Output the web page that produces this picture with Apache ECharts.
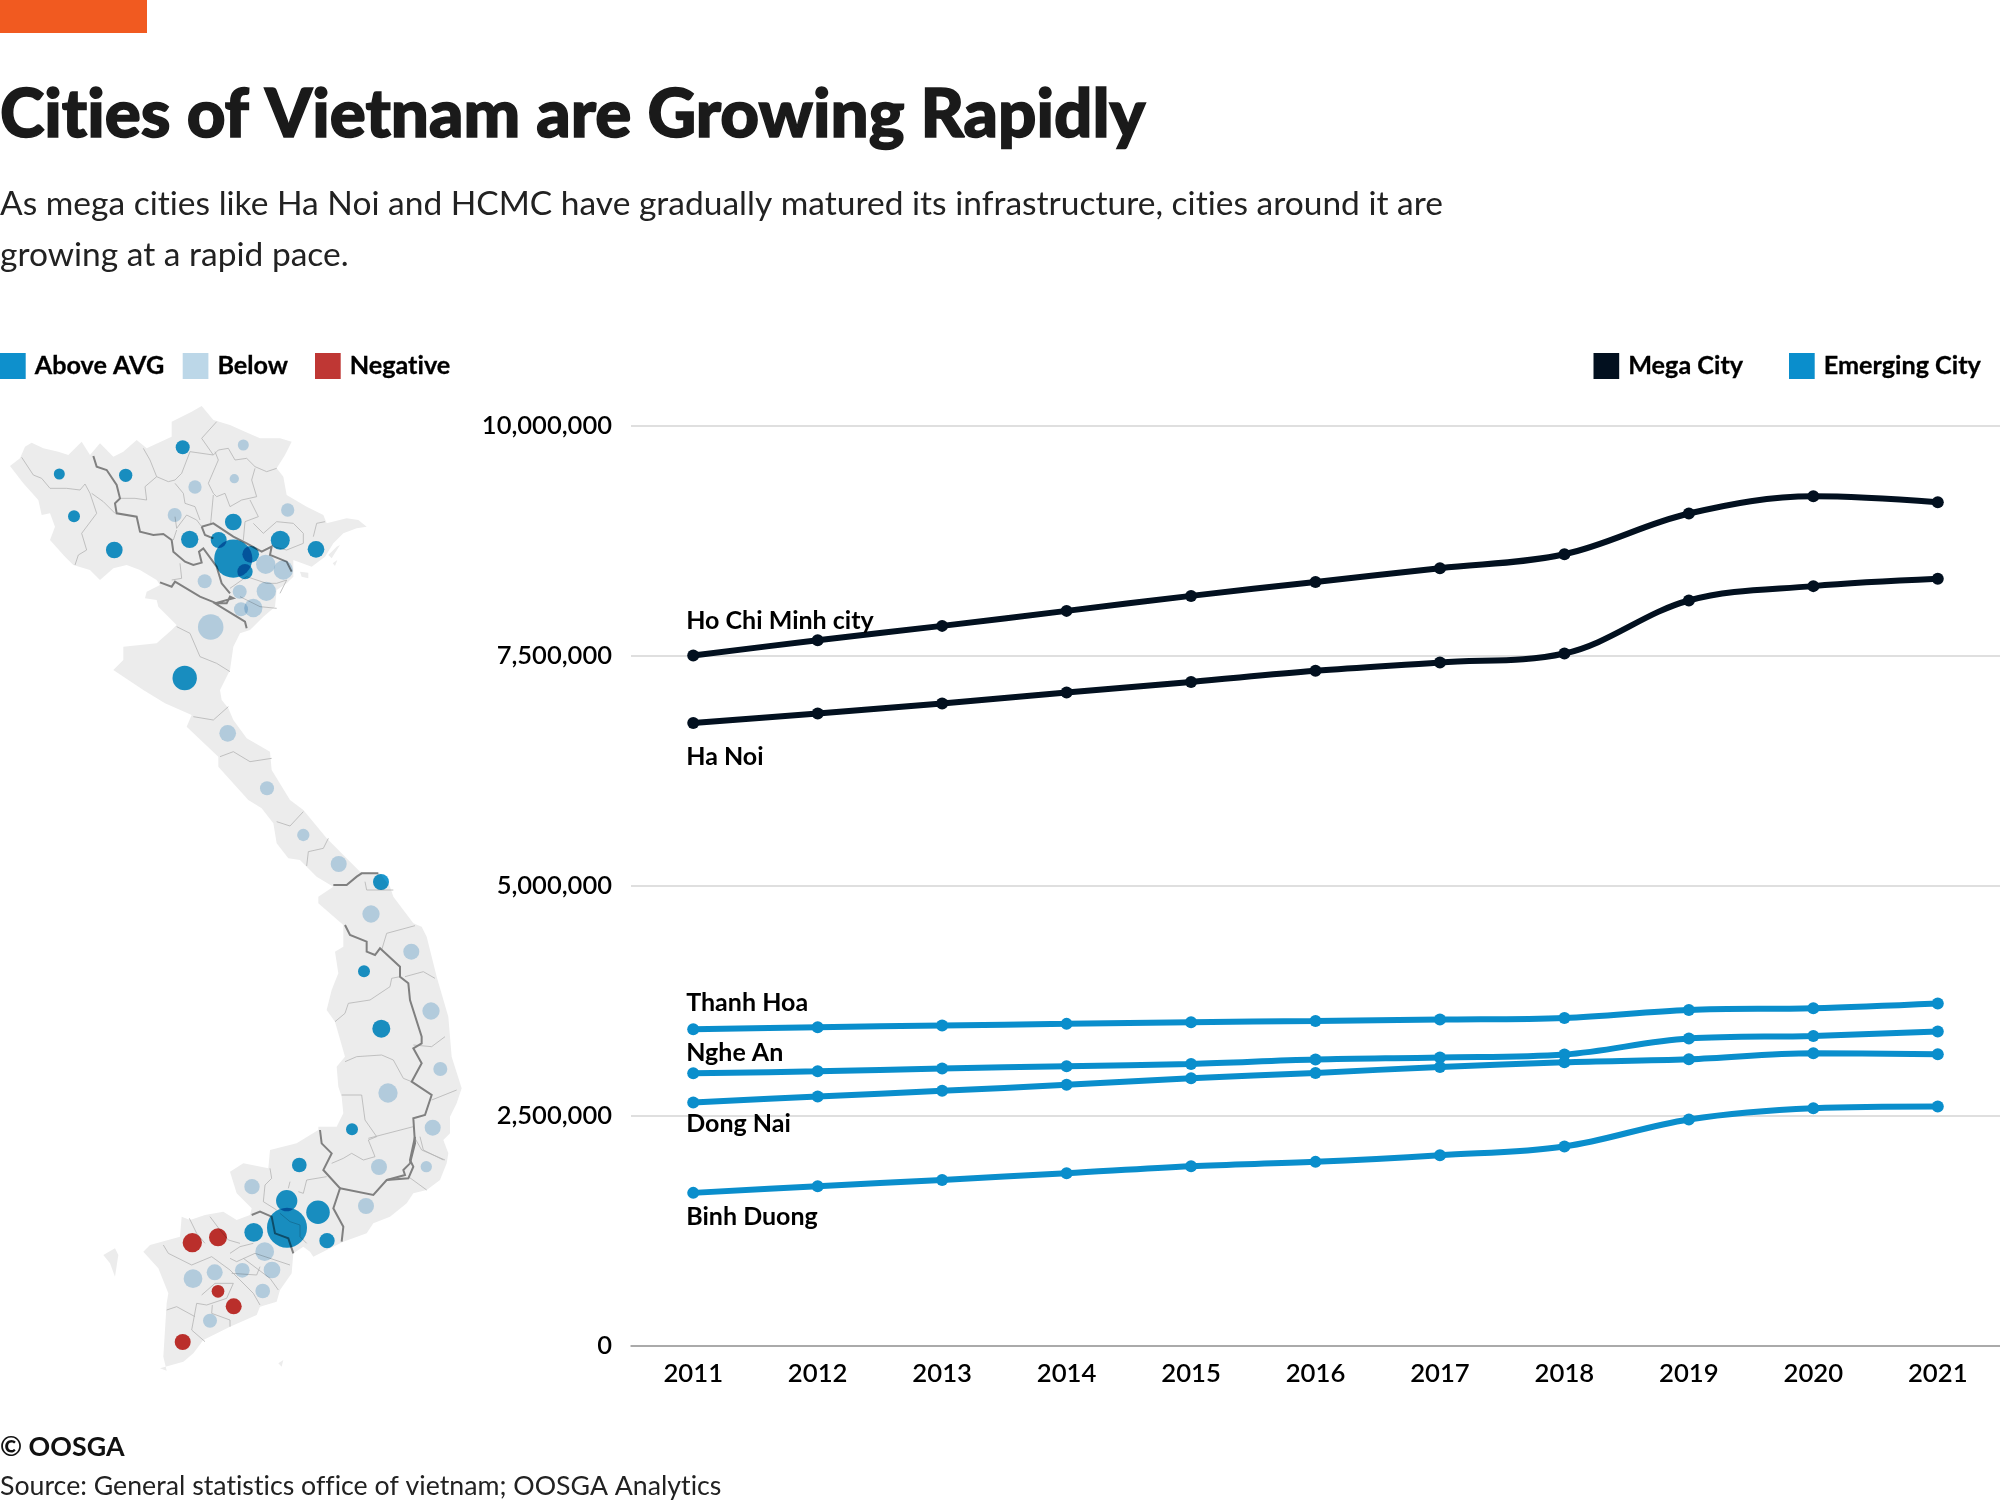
<!DOCTYPE html>
<html><head><meta charset="utf-8">
<style>html,body{margin:0;padding:0;background:#fff}#c{width:2000px;height:1500px}</style>
<script src="https://cdn.jsdelivr.net/npm/echarts@6/dist/echarts.min.js"></script>
</head><body><div id="c"></div>
<script>
// the reference's type has no ligatures: a negligible letter spacing turns them off on canvas
const baseGetContext=HTMLCanvasElement.prototype.getContext;
HTMLCanvasElement.prototype.getContext=function(t,o){const c=baseGetContext.call(this,t,o);if(t==='2d'&&c&&'letterSpacing' in c&&!c.__ls){c.letterSpacing='0.01px';c.__ls=1;}return c;};

const years=['2011','2012','2013','2014','2015','2016','2017','2018','2019','2020','2021'];
const yTicks=[0,2500000,5000000,7500000,10000000];
const hoChiMinh=[7500000,7666000,7822000,7985000,8148000,8300000,8449000,8600000,9043000,9230000,9167000];
const haNoi=[6767000,6870000,6978000,7098000,7213000,7333000,7424000,7522000,8098000,8254000,8333000];
const thanhHoa=[3438000,3460000,3478000,3496000,3514000,3528000,3543000,3561000,3648000,3666000,3717000];
const ngheAn=[2960000,2980000,3010000,3036000,3061000,3108000,3130000,3163000,3337000,3365000,3413000];
const dongNai=[2641000,2706000,2768000,2833000,2905000,2963000,3028000,3079000,3112000,3177000,3166000];
const binhDuong=[1659000,1732000,1800000,1873000,1949000,1996000,2068000,2163000,2457000,2579000,2598000];

// map bubbles: [map x, map y, population in thousands]
const aboveCities=[[59.3,474,692],[125.7,475.3,1012],[182.7,447.3,1122],[74,516.3,824],[114.3,550,1596],[189.7,539.3,1713],[218.7,540,1465],[233.3,522,1596],[280.3,540.3,2066],[316,549.3,1596],[233.3,558.7,8333],[250.7,554.3,1596],[245,571.7,1340],[184.7,678,3413],[381,882,1465],[364,971.3,824],[381.3,1028.7,1854],[352,1129.3,824],[299.3,1165,1237],[286.7,1200.7,2598],[318,1212.3,3166],[287,1227.7,9167],[253.7,1232.3,2001],[327,1240.7,1340]];
const belowCities=[[243.3,445,692],[234.3,478.7,495],[195,487,1012],[287.7,510,1012],[174.7,515,1122],[265.7,564.3,2132],[283.3,570,2132],[204.7,581.3,1122],[239.7,591.7,1122],[266.3,591.3,2132],[241,609.3,1122],[253.3,608,1917],[210.7,627,3717],[227.7,733.3,1596],[267,788.3,1122],[303.3,835,866],[338.7,864,1465],[371,914,1713],[411.3,951.7,1465],[431,1011,1713],[440.3,1069,1122],[388,1093,2132],[432.7,1127.7,1465],[426.3,1166.7,731],[379,1167,1465],[252,1186.7,1340],[366,1206,1465],[264.7,1251.7,2001],[272,1270,1596],[242.3,1270.3,1237],[214.7,1272.3,1465],[193,1278.7,2001],[262.7,1291,1237],[210,1320.7,1122]];
const negativeCities=[[192.3,1242.7,2132],[218,1237.3,1854],[218,1291.3,923],[233.7,1306.3,1465],[182.7,1342,1465]];

// map outline
const zA=[0,380],zB=[60,780],zC=[80,1130];
const conv=(pts,o)=>pts.map(p=>[p[0]/3+o[0],p[1]/3+o[1]]);
const landMain=[].concat(
 conv([[30,258],[60,235],[75,200],[95,188],[130,205],[175,215],[205,225],[245,185],[270,225],[300,190],[340,230],[370,215],[410,180],[440,205],[515,170],[515,125],[575,95],[605,78],[640,120],[690,135],[735,155],[780,175],[840,175],[875,185],[855,225],[830,265],[850,290],[860,345],[920,380],[970,405],[980,430],[1040,415],[1075,420],[1100,440],[1070,445],[1030,460],[1000,490],[975,530],[935,560],[880,540],[880,590],[860,610],[830,630],[825,680],[790,710],[750,750],[720,760],[700,800],[690,870],[660,930],[665,960],[685,985],[700,1020],[740,1075],[810,1115],[815,1170],[870,1260]],zA),
 conv([[730,90],[800,175],[900,275],[960,280],[990,320],[1000,350],[1060,430],[1085,440],[1100,470],[1130,590],[1165,710],[1170,770],[1175,830],[1205,925],[1190,970],[1170,1010],[1170,1060],[1150,1080],[1165,1120]],zB),
 conv([[1100,100],[1080,150],[1040,180],[1000,190],[980,220],[930,260],[880,280],[860,310],[790,335],[740,360],[700,380],[690,365],[670,350],[640,370],[635,430],[600,480],[590,515],[540,530],[530,555],[450,590],[370,630],[340,670],[310,695],[240,715],[260,722],[250,680],[260,520],[265,490],[235,415],[190,365],[210,345],[300,320],[305,260],[330,270],[375,255],[430,245],[470,270],[510,255],[515,235],[470,190],[450,125],[490,100],[565,115],[570,60],[650,40],[715,0]],zC),
 conv([[775,1040],[830,1040],[850,1000],[845,950],[835,920],[830,860],[855,830],[825,725],[800,690],[815,630],[835,580],[825,515],[850,500],[850,435],[775,370],[775,350],[820,320],[770,290],[720,240],[685,235],[650,190],[640,130],[605,85],[565,60]],zB),
 conv([[745,1260],[655,1160],[655,1130],[560,1040],[575,1005],[495,970],[430,930],[340,870],[370,840],[370,800],[470,790],[515,750],[530,735],[475,680],[470,660],[435,655],[440,635],[480,615],[470,600],[420,570],[380,555],[340,565],[300,600],[270,570],[220,555],[195,530],[150,480],[165,440],[150,400],[125,405],[115,360],[70,310]],zA)
);
const landIslands=[
 conv([[70,375],[105,355],[115,375],[105,440],[90,400]],zC),
 conv([[595,700],[610,690],[605,710]],zC),
 conv([[900,575],[925,578],[925,595],[905,590]],zA),
 conv([[985,525],[1010,500],[1020,495],[995,535]],zA),
 conv([[998,550],[1012,540],[1005,558]],zA)
];
const thickBorders=[
 conv([[280,228],[290,260],[320,270],[350,315],[360,355],[345,370],[350,400],[410,410],[420,455],[460,465],[490,462],[515,480],[520,515],[555,545],[580,555],[605,548],[597,515],[610,505],[650,560],[665,610],[690,640]],zA),
 conv([[605,440],[640,430],[700,470],[740,490],[785,515],[815,500],[810,525],[860,545],[875,575]],zA),
 conv([[605,440],[615,465],[640,475]],zA),
 conv([[480,607],[515,620],[525,605],[600,650],[650,670],[680,670],[690,650],[700,655],[645,670],[735,725],[740,745]],zA),
 conv([[820,315],[860,315],[890,290],[905,280],[955,280]],zB),
 conv([[855,435],[870,465],[920,485],[920,515],[945,525],[960,505],[1020,560],[1020,590],[1045,610],[1050,660],[1085,770],[1085,790],[1060,805],[1085,850],[1055,905],[1115,945],[1095,1005],[1060,1015],[1065,1090],[1050,1150],[1030,1170],[1035,1185],[980,1200]],zB),
 conv([[720,0],[725,40],[755,70],[730,120],[780,175],[760,235],[790,290],[785,335]],zC),
 conv([[780,175],[880,195],[920,150],[985,145],[1000,110],[990,90],[1005,20]],zC),
 conv([[515,255],[540,245],[575,260],[585,310],[625,325],[640,370]],zC)
];
const thinBorders=[
 conv([[65,232],[100,285],[125,295],[150,325],[200,325],[240,330],[255,312],[270,340],[290,400],[245,460],[260,510],[235,525],[225,555]],zA),
 conv([[275,340],[310,365],[345,400]],zA),
 conv([[430,205],[450,240],[470,290],[505,305],[525,300],[545,280],[570,215],[640,225],[605,175],[650,125]],zA),
 conv([[640,225],[655,210],[685,205],[705,240],[740,235],[765,260],[800,275],[830,265]],zA),
 conv([[645,215],[655,240],[625,310],[640,340],[650,350],[675,340],[690,380],[725,360],[770,350],[755,300],[765,265]],zA),
 conv([[525,310],[550,340],[555,370],[585,380],[600,420]],zA),
 conv([[470,290],[435,320],[440,360],[405,355],[360,355]],zA),
 conv([[640,345],[632,430]],zA),
 conv([[750,360],[775,410],[735,425],[730,480]],zA),
 conv([[760,430],[790,460],[830,425],[880,430],[910,460],[910,490],[860,510],[820,500]],zA),
 conv([[940,470],[950,430],[975,425]],zA),
 conv([[525,410],[530,445],[560,405],[590,420],[605,440]],zA),
 conv([[530,450],[520,480]],zA),
 conv([[515,600],[545,595],[540,550]],zA),
 conv([[690,625],[740,590],[800,610],[830,610],[860,600],[840,640]],zA),
 conv([[720,650],[780,680],[830,685]],zA),
 conv([[530,740],[570,760],[600,830],[650,850],[690,875]],zA),
 conv([[580,1010],[640,1020],[685,980]],zA),
 conv([[660,1130],[700,1115],[750,1145],[815,1135]],zA),
 conv([[650,125],[690,138],[730,95]],zB),
 conv([[740,258],[745,215],[790,205],[805,175]],zB),
 conv([[915,305],[920,330],[1000,330]],zB),
 conv([[965,510],[980,460],[1065,437]],zB),
 conv([[1035,590],[1090,575],[1125,595]],zB),
 conv([[1020,590],[995,595],[990,620],[930,660],[865,670],[855,700],[825,725]],zB),
 conv([[855,845],[890,830],[965,825],[1000,840],[1030,895],[1055,905]],zB),
 conv([[1060,795],[1115,800],[1155,770]],zB),
 conv([[1115,960],[1190,930]],zB),
 conv([[845,945],[905,945],[915,1020],[950,1070],[925,1080],[945,1130],[910,1140],[875,1120],[850,1135],[815,1150]],zB),
 conv([[925,1075],[1060,1040]],zB),
 conv([[1065,1075],[1085,1110],[1155,1140]],zB),
 conv([[570,115],[575,145],[555,165],[550,215],[590,240]],zC),
 conv([[655,185],[670,190],[680,150],[740,140]],zC),
 conv([[630,155],[625,175]],zC),
 conv([[250,345],[265,370],[335,405],[395,380],[450,420],[520,490],[540,525]],zC),
 conv([[390,260],[420,300],[445,330],[480,340]],zC),
 conv([[328,265],[350,310],[375,340]],zC),
 conv([[450,370],[480,350],[520,340]],zC),
 conv([[450,385],[470,395],[525,370],[630,405]],zC),
 conv([[490,385],[570,445],[595,480]],zC),
 conv([[455,430],[530,435],[540,410]],zC),
 conv([[365,495],[405,460],[460,460],[440,505],[380,525],[350,520]],zC),
 conv([[260,540],[290,530],[345,560]],zC),
 conv([[350,520],[335,600],[375,635]],zC),
 conv([[397,525],[395,550],[450,570],[450,590]],zC),
 conv([[600,250],[630,275],[660,285],[660,320],[680,340]],zC),
 conv([[985,140],[1040,180]],zC),
 conv([[1020,20],[1030,60],[1090,90]],zC)
];

const FONT='Lato';
const BLUE='#0A8ECC', DARK='#02101F';
const bubbleKm=0.418;
const polyItem=(arr,style,type)=>({
  type:'custom',coordinateSystem:'cartesian2d',xAxisIndex:1,yAxisIndex:1,silent:true,clip:false,
  data:arr.map((_,i)=>[i,0]),z:type==='polygon'?1:2,
  renderItem:(p,api)=>({type,shape:{points:arr[p.dataIndex].map(c=>api.coord(c))},style})
});
const bubble=(name,data,color)=>({
  name,type:'scatter',coordinateSystem:'cartesian2d',xAxisIndex:1,yAxisIndex:1,data,z:3,
  symbol:'circle',symbolSize:v=>Math.sqrt(v[2])*bubbleKm,blendMode:'multiply',
  itemStyle:{color,opacity:1},silent:true,clip:false
});
const cityLine=(group,city,values,color,dy)=>({
  name:group,type:'line',xAxisIndex:0,yAxisIndex:0,smooth:0.35,z:4,
  data:values.map((v,i)=>i===0?{value:v,label:{show:true,formatter:city,position:'top',distance:0,align:'left',verticalAlign:'middle',offset:[-7,dy+6],color:'#000',fontFamily:FONT,fontWeight:700,fontSize:25}}:v),
  symbol:'circle',symbolSize:12,showSymbol:true,
  lineStyle:{color,width:6},itemStyle:{color},silent:true,
  label:{show:false}
});
const legendAt=(name,left,color)=>({
  data:[{name,icon:'rect',itemStyle:{color}}],left,top:353,orient:'horizontal',padding:0,
  itemWidth:25.7,itemHeight:26,selectedMode:false,
  textStyle:{fontFamily:FONT,fontWeight:700,fontSize:25.2,color:'#000',padding:[0,0,0,4],textBorderColor:'#000',textBorderWidth:0.3}
});

const option={
  animation:false,backgroundColor:'#fff',
  title:[
    {text:'Cities of Vietnam are Growing Rapidly',left:0,top:82,padding:0,textStyle:{fontFamily:FONT,fontWeight:900,fontSize:67.3,color:'#1a1a1a',textBorderColor:'#1a1a1a',textBorderWidth:1.5}},
    {text:'As mega cities like Ha Noi and HCMC have gradually matured its infrastructure, cities around it are\ngrowing at a rapid pace.',left:0,top:178.5,padding:0,textStyle:{fontFamily:FONT,fontWeight:400,fontSize:33.5,lineHeight:51,color:'#222'}},
    {text:'© OOSGA',left:0,top:1434,padding:0,textStyle:{fontFamily:FONT,fontWeight:700,fontSize:26.8,color:'#111'}},
    {text:'Source: General statistics office of vietnam; OOSGA Analytics',left:0,top:1473,padding:0,textStyle:{fontFamily:FONT,fontWeight:400,fontSize:26.7,color:'#222'}}
  ],
  legend:[legendAt('Above AVG',0,'#0E90CC'),legendAt('Below',182.7,'#BCD7E8'),legendAt('Negative',315,'#BF3734'),legendAt('Mega City',1593.5,DARK),legendAt('Emerging City',1789,BLUE)],
  grid:[
    {left:631,right:0,top:425.5,height:920,containLabel:false},
    {left:0,top:0,width:2000,height:1500}
  ],
  xAxis:[
    {type:'category',gridIndex:0,data:years,boundaryGap:true,axisTick:{show:false},
     axisLine:{show:true,lineStyle:{color:'#999',width:1.5}},
     axisLabel:{color:'#000',fontFamily:FONT,fontWeight:600,fontSize:25.7,margin:15},splitLine:{show:false}},
    {type:'value',gridIndex:1,min:0,max:2000,show:false}
  ],
  yAxis:[
    {type:'value',gridIndex:0,min:yTicks[0],max:yTicks[yTicks.length-1],interval:yTicks[1]-yTicks[0],
     axisLine:{show:false},axisTick:{show:false},
     splitLine:{show:true,lineStyle:{color:'#D4D4D4',width:1.5}},
     axisLabel:{color:'#000',fontFamily:FONT,fontWeight:600,fontSize:25.5,margin:19,formatter:v=>v.toLocaleString('en-US')}},
    {type:'value',gridIndex:1,min:0,max:1500,inverse:true,show:false}
  ],
  graphic:[{type:'rect',left:0,top:0,shape:{width:147,height:33},style:{fill:'#F15A20'},silent:true}],
  series:[
    polyItem([landMain].concat(landIslands),{fill:'#ECECEC'},'polygon'),
    polyItem(thinBorders,{fill:'none',stroke:'#B4B4B4',lineWidth:0.8},'polyline'),
    polyItem(thickBorders,{fill:'none',stroke:'#808080',lineWidth:2},'polyline'),
    bubble('Above AVG',aboveCities,'#1A98CF'),
    bubble('Below',belowCities,'#C1DCEE'),
    bubble('Negative',negativeCities,'#C9322E'),
    cityLine('Mega City','Ho Chi Minh city',hoChiMinh,DARK,-35),
    cityLine('Mega City','Ha Noi',haNoi,DARK,34),
    cityLine('Emerging City','Thanh Hoa',thanhHoa,BLUE,-26),
    cityLine('Emerging City','Nghe An',ngheAn,BLUE,-20),
    cityLine('Emerging City','Dong Nai',dongNai,BLUE,21),
    cityLine('Emerging City','Binh Duong',binhDuong,BLUE,24)
  ]
};
const chart=echarts.init(document.getElementById('c'),null,{renderer:'canvas',width:2000,height:1500});
chart.setOption(option);
</script></body></html>
